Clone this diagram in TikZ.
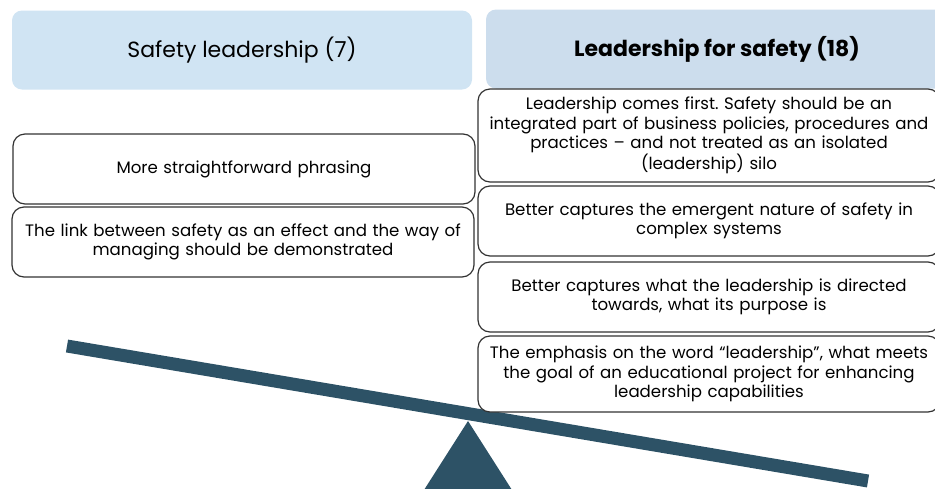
\documentclass[tikz,border=0pt]{standalone}
\usepackage{fontspec}
\setmainfont{Poppins}
\frenchspacing
\definecolor{beamblue}{HTML}{2D5266}
\definecolor{headleft}{HTML}{D0E4F3}
\definecolor{headright}{HTML}{CCDDED}
\definecolor{boxline}{HTML}{333333}
\begin{document}
\begin{tikzpicture}[x=1pt, y=-1pt,
    header/.style={rounded corners=10pt, minimum width=460pt, minimum height=79pt, inner sep=0pt},
    reason/.style={draw=boxline, line width=1.2pt, fill=white, rounded corners=12pt,
      minimum width=462pt, text width=462pt, align=center, inner sep=0pt,
      font=\fontsize{16.6}{19.3}\selectfont}]
  \useasboundingbox (0,0) rectangle (935,488);
  \node[header, fill=headleft, font=\fontsize{22}{26}\selectfont] (left) at (242,50) {Safety leadership (7)};
  \node[header, fill=headright, minimum width=462pt, font=\fontsize{22}{26}\bfseries\selectfont] (right) at (717,49) {Leadership for safety (18)};
  \draw[beamblue, line width=13pt] (67,346) coordinate (beamL) -- (868,481) coordinate (beamR);
  \fill[beamblue] (468,421) -- (512,490) -- (424,490) -- cycle;
  \node[reason, minimum height=70pt] (simple) at (244,169) {More straightforward phrasing};
  \node[reason, minimum height=70pt] (link) at (243,242) {The link between safety as an effect and the way of\\managing should be demonstrated};
  \node[reason, minimum height=93pt] (first) at (709,135.5) {Leadership comes first. Safety should be an\\integrated part of business policies, procedures and\\practices -- and not treated as an isolated\\(leadership) silo};
  \node[reason, minimum height=70pt] (emergent) at (709,221) {Better captures the emergent nature of safety in\\complex systems};
  \node[reason, minimum height=70pt] (purpose) at (709,297) {Better captures what the leadership is directed\\towards, what its purpose is};
  \node[reason, minimum height=76pt] (emphasis) at (709,374) {The emphasis on the word ``leadership'', what meets\\the goal of an educational project for enhancing\\leadership capabilities};
\end{tikzpicture}
\end{document}
